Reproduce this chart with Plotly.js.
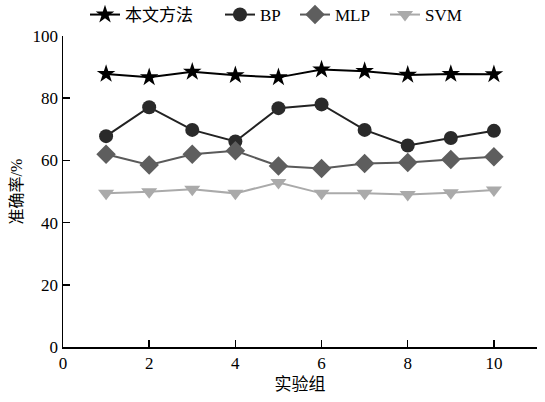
<!DOCTYPE html>
<html><head><meta charset="utf-8">
<script src="https://cdn.plot.ly/plotly-3.0.1.min.js"></script>
<style>body{margin:0;background:#fff}#c{width:545px;height:402px}</style>
</head><body><div id="c"></div>
<script>
const groups = [1,2,3,4,5,6,7,8,9,10];
const ours = [87.8,86.7,88.5,87.4,86.7,89.2,88.7,87.5,87.8,87.7];
const bp   = [67.8,77.1,69.8,66.1,76.8,78.0,69.8,64.8,67.2,69.5];
const mlp  = [62.0,58.5,62.0,63.1,58.2,57.4,59.0,59.3,60.3,61.2];
const svm  = [49.4,49.9,50.7,49.4,52.9,49.4,49.4,49.0,49.6,50.5];
const names = ['本文方法','BP','MLP','SVM'];
const xTicks = [0,2,4,6,8,10];
const yTicks = [0,20,40,60,80,100];

const font = "'Liberation Serif','Noto Sans CJK SC',serif";
const traces = [
  {x:groups,y:ours,name:names[0],legend:'legend',mode:'lines+markers',line:{color:'#000',width:2},marker:{symbol:'star',size:14,color:'#000'}},
  {x:groups,y:bp,name:names[1],legend:'legend2',mode:'lines+markers',line:{color:'#222',width:2},marker:{symbol:'circle',size:14,color:'#2a2a2a'}},
  {x:groups,y:mlp,name:names[2],legend:'legend3',mode:'lines+markers',line:{color:'#5a5a5a',width:2},marker:{symbol:'diamond',size:15,color:'#5e5e5e'}},
  {x:groups,y:svm,name:names[3],legend:'legend4',mode:'lines+markers',line:{color:'#aaa',width:2},marker:{symbol:'triangle-down',size:14,color:'#aaa'}}
];
function leg(px){
  return {orientation:'h',x:(px-63)/474,xanchor:'left',y:1.0675,yanchor:'middle',font:{family:font,size:17},bgcolor:'rgba(0,0,0,0)',borderwidth:0};
}
const layout = {
  width:545,height:402,
  margin:{l:63,r:8,t:36,b:55,autoexpand:false},
  paper_bgcolor:'#fff',plot_bgcolor:'#fff',
  font:{family:font,size:16,color:'#000'},
  showlegend:true,
  legend:leg(85),legend2:leg(220),legend3:leg(295),legend4:leg(385),
  xaxis:{range:[0,11],tickvals:xTicks,ticks:'inside',ticklen:7,tickwidth:1.5,tickcolor:'#000',showline:true,linecolor:'#000',linewidth:1.5,showgrid:false,zeroline:false,
    title:{text:'实验组',font:{family:font,size:17},standoff:6},tickfont:{family:font,size:17}},
  yaxis:{range:[0,100],tickvals:yTicks,ticks:'inside',ticklen:7,tickwidth:1.5,tickcolor:'#000',showline:true,linecolor:'#000',linewidth:1.5,showgrid:false,zeroline:false,
    title:{text:'准确率/%',font:{family:font,size:16},standoff:6},tickfont:{family:font,size:17}}
};
Plotly.newPlot('c',traces,layout,{displayModeBar:false,staticPlot:true});
</script></body></html>
